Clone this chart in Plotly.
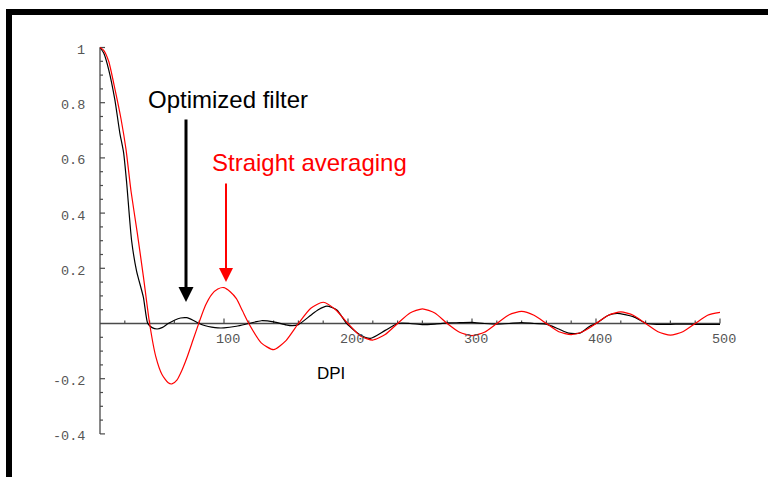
import plotly.graph_objects as go

# ---- data ----
dpi_red = [0, 3, 7, 12, 17, 21, 25, 30, 35, 40, 45, 50, 55, 58, 62, 66, 70, 75, 80, 85, 90, 95, 100,
           105, 110, 115, 120, 130, 140, 150, 160, 170, 180, 190, 200, 210, 220, 230, 240, 250, 260,
           270, 280, 290, 300, 310, 320, 330, 340, 350, 360, 370, 380, 390, 400, 410, 420, 430, 440,
           450, 460, 470, 480, 490, 500]
straight_avg = [1.0, 0.99, 0.95, 0.85, 0.74, 0.63, 0.48, 0.33, 0.17, 0.0, -0.12, -0.185, -0.215, -0.219,
                -0.205, -0.17, -0.125, -0.06, 0.005, 0.065, 0.105, 0.125, 0.13,
                0.115, 0.09, 0.045, 0.0, -0.07, -0.095, -0.062, 0.0, 0.055, 0.077, 0.05, 0.0, -0.045,
                -0.06, -0.04, 0.0, 0.038, 0.053, 0.038, 0.0, -0.032, -0.044, -0.032, 0.0, 0.032, 0.044,
                0.03, 0.0, -0.03, -0.04, -0.028, 0.0, 0.03, 0.042, 0.03, 0.0, -0.03, -0.042, -0.03,
                0.0, 0.03, 0.04]

dpi_black = [0, 3, 7, 12, 16, 19, 21.5, 25.5, 29.5, 35, 38.5, 42, 46, 50, 55, 60, 65, 70, 75, 80, 85,
             90, 95, 100, 110, 120, 130, 140, 150, 155, 160, 170, 176, 183, 191, 199, 210, 218, 230,
             240, 250, 260, 270, 280, 290, 300, 310, 320, 330, 340, 350, 360, 370, 378, 387, 395, 400,
             410, 417, 430, 441, 450, 460, 470, 480, 490, 500]
optimized = [1.0, 0.98, 0.92, 0.81, 0.69, 0.62, 0.51, 0.30, 0.19, 0.095, 0.0, -0.015, -0.02, -0.015,
             0.0, 0.012, 0.02, 0.021, 0.012, 0.0, -0.008, -0.013, -0.016, -0.016, -0.01, 0.0, 0.01,
             0.006, -0.005, -0.008, -0.004, 0.03, 0.05, 0.063, 0.049, 0.0, -0.042, -0.054, -0.025,
             0.0, 0.0, -0.004, -0.002, 0.002, 0.003, 0.004, 0.0, -0.002, 0.0, 0.003, 0.0, -0.002,
             -0.02, -0.035, -0.035, -0.01, 0.0, 0.03, 0.037, 0.025, 0.0, -0.003, -0.003, -0.002,
             -0.003, -0.003, -0.003]

x_major = [100, 200, 300, 400, 500]
x_minor = [20, 40, 60, 80, 120, 140, 160, 180, 220, 240, 260, 280, 320, 340, 360, 380,
           420, 440, 460, 480]
y_major = [-0.4, -0.2, 0.2, 0.4, 0.6, 0.8, 1.0]
y_labels = ["-0.4", "-0.2", "0.2", "0.4", "0.6", "0.8", "1"]
y_minor = [-0.35, -0.3, -0.25, -0.15, -0.1, -0.05, 0.05, 0.1, 0.15, 0.25, 0.3, 0.35, 0.45,
           0.5, 0.55, 0.65, 0.7, 0.75, 0.85, 0.9, 0.95]

W, H = 768, 477
PX_PER_X = 1.24      # pixels per DPI unit
PX_PER_Y = 276.0     # pixels per unit of y
X0_PX, Y0_PX = 100.0, 323.5
x_range = [-X0_PX / PX_PER_X, (W - X0_PX) / PX_PER_X]
y_range = [-(H - Y0_PX) / PX_PER_Y, Y0_PX / PX_PER_Y]

AX_COL = "#4a4a4a"
LBL_COL = "#555555"
MONO = "Liberation Mono, Courier New, monospace"
SANS = "Liberation Sans, Arial, sans-serif"

fig = go.Figure()
fig.add_trace(go.Scatter(x=dpi_black, y=optimized, mode="lines",
                         line=dict(color="black", width=1.2, shape="spline", smoothing=0.6),
                         hoverinfo="skip", showlegend=False))
fig.add_trace(go.Scatter(x=dpi_red, y=straight_avg, mode="lines",
                         line=dict(color="#ff0000", width=1.2, shape="spline", smoothing=0.6),
                         hoverinfo="skip", showlegend=False))

shapes = []
# axes lines
shapes.append(dict(type="line", xref="x", yref="y", x0=0, x1=500, y0=0, y1=0,
                   line=dict(color=AX_COL, width=1.3), layer="below"))
shapes.append(dict(type="line", xref="x", yref="y", x0=0, x1=0, y0=-0.4, y1=1.0,
                   line=dict(color=AX_COL, width=1.3), layer="below"))
# x ticks (pointing up)
for v in x_major:
    shapes.append(dict(type="line", xref="x", yref="y", x0=v, x1=v, y0=0, y1=5 / PX_PER_Y,
                       line=dict(color=AX_COL, width=1.2), layer="below"))
for v in x_minor:
    shapes.append(dict(type="line", xref="x", yref="y", x0=v, x1=v, y0=0, y1=3 / PX_PER_Y,
                       line=dict(color=AX_COL, width=1.2), layer="below"))
# y ticks (pointing right)
for v in y_major:
    shapes.append(dict(type="line", xref="x", yref="y", x0=0, x1=5 / PX_PER_X, y0=v, y1=v,
                       line=dict(color=AX_COL, width=1.2), layer="below"))
for v in y_minor:
    shapes.append(dict(type="line", xref="x", yref="y", x0=0, x1=3 / PX_PER_X, y0=v, y1=v,
                       line=dict(color=AX_COL, width=1.2), layer="below"))
# frame bars (top and left)
shapes.append(dict(type="rect", xref="paper", yref="paper", x0=6 / W, x1=1.0,
                   y0=1 - 15 / H, y1=1 - 9 / H, fillcolor="black", line=dict(width=0)))
shapes.append(dict(type="rect", xref="paper", yref="paper", x0=6 / W, x1=12 / W,
                   y0=0, y1=1 - 9 / H, fillcolor="black", line=dict(width=0)))

annotations = []
for v in x_major:
    annotations.append(dict(x=v, y=0, xref="x", yref="y", text=str(v), showarrow=False,
                            font=dict(family=MONO, size=13.5, color=LBL_COL),
                            xanchor="center", yanchor="middle", xshift=4, yshift=-16))
for v, t in zip(y_major, y_labels):
    annotations.append(dict(x=0, y=v, xref="x", yref="y", text=t, showarrow=False,
                            font=dict(family=MONO, size=13.5, color=LBL_COL),
                            xanchor="right", yanchor="middle", xshift=-13, yshift=-3))
annotations.append(dict(x=(330.5 - X0_PX) / PX_PER_X, y=(Y0_PX - 373) / PX_PER_Y,
                        xref="x", yref="y", text="DPI", showarrow=False,
                        font=dict(family=SANS, size=17, color="black"),
                        xanchor="center", yanchor="middle"))
annotations.append(dict(x=(227.5 - X0_PX) / PX_PER_X, y=(Y0_PX - 99) / PX_PER_Y,
                        xref="x", yref="y", text="Optimized filter", showarrow=False,
                        font=dict(family=SANS, size=24, color="black"),
                        xanchor="center", yanchor="middle"))
annotations.append(dict(x=(309 - X0_PX) / PX_PER_X, y=(Y0_PX - 162) / PX_PER_Y,
                        xref="x", yref="y", text="Straight averaging", showarrow=False,
                        font=dict(family=SANS, size=24, color="#ff0000"),
                        xanchor="center", yanchor="middle"))
# arrows
annotations.append(dict(x=(186 - X0_PX) / PX_PER_X, y=(Y0_PX - 302) / PX_PER_Y,
                        ax=(186 - X0_PX) / PX_PER_X, ay=(Y0_PX - 118) / PX_PER_Y,
                        xref="x", yref="y", axref="x", ayref="y", text="", showarrow=True,
                        arrowhead=2, arrowsize=1.0, arrowwidth=3, arrowcolor="black"))
annotations.append(dict(x=(226 - X0_PX) / PX_PER_X, y=(Y0_PX - 282) / PX_PER_Y,
                        ax=(226 - X0_PX) / PX_PER_X, ay=(Y0_PX - 182) / PX_PER_Y,
                        xref="x", yref="y", axref="x", ayref="y", text="", showarrow=True,
                        arrowhead=2, arrowsize=1.4, arrowwidth=2, arrowcolor="#ff0000"))

fig.update_layout(
    width=W, height=H, margin=dict(l=0, r=0, t=0, b=0),
    paper_bgcolor="white", plot_bgcolor="white",
    xaxis=dict(range=x_range, visible=False, fixedrange=True),
    yaxis=dict(range=y_range, visible=False, fixedrange=True),
    shapes=shapes, annotations=annotations, showlegend=False,
)

fig.write_html("out.html")
